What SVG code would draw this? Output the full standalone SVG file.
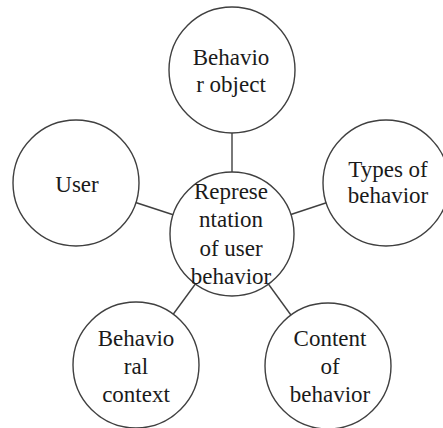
<svg xmlns="http://www.w3.org/2000/svg" width="443" height="428" viewBox="0 0 443 428">
  <style>
    .node circle { fill: #ffffff; stroke: #404040; stroke-width: 1.4; }
    #connectors line { stroke: #404040; stroke-width: 1.4; }
  </style>
  <rect width="443" height="428" fill="#ffffff"/>
  <g id="connectors">
    <line x1="232" y1="133" x2="232" y2="172"/>
    <line x1="76" y1="183" x2="232" y2="234"/>
    <line x1="386" y1="183" x2="232" y2="234"/>
    <line x1="136" y1="365" x2="232" y2="234"/>
    <line x1="328" y1="366" x2="232" y2="234"/>
  </g>
  <g id="behavior-object" class="node">
    <circle cx="232" cy="70" r="63"/>
    <text x="231" y="65" font-family="Liberation Serif" font-size="23" fill="#1a1a1a" text-anchor="middle">Behavio</text>
    <text x="231" y="92" font-family="Liberation Serif" font-size="23" fill="#1a1a1a" text-anchor="middle">r object</text>
  </g>
  <g id="user" class="node">
    <circle cx="76" cy="183" r="63"/>
    <text x="77" y="192" font-family="Liberation Serif" font-size="23" fill="#1a1a1a" text-anchor="middle">User</text>
  </g>
  <g id="types-of-behavior" class="node">
    <circle cx="386" cy="183" r="63"/>
    <text x="388" y="177" font-family="Liberation Serif" font-size="23" fill="#1a1a1a" text-anchor="middle">Types of</text>
    <text x="388" y="203" font-family="Liberation Serif" font-size="23" fill="#1a1a1a" text-anchor="middle">behavior</text>
  </g>
  <g id="behavioral-context" class="node">
    <circle cx="136" cy="365" r="63"/>
    <text x="136" y="346" font-family="Liberation Serif" font-size="23" fill="#1a1a1a" text-anchor="middle">Behavio</text>
    <text x="136" y="374" font-family="Liberation Serif" font-size="23" fill="#1a1a1a" text-anchor="middle">ral</text>
    <text x="136" y="402" font-family="Liberation Serif" font-size="23" fill="#1a1a1a" text-anchor="middle">context</text>
  </g>
  <g id="content-of-behavior" class="node">
    <circle cx="328" cy="366" r="63"/>
    <text x="330" y="346" font-family="Liberation Serif" font-size="23" fill="#1a1a1a" text-anchor="middle">Content</text>
    <text x="330" y="374" font-family="Liberation Serif" font-size="23" fill="#1a1a1a" text-anchor="middle">of</text>
    <text x="330" y="402" font-family="Liberation Serif" font-size="23" fill="#1a1a1a" text-anchor="middle">behavior</text>
  </g>
  <g id="representation" class="node">
    <circle cx="232" cy="234" r="62"/>
    <text x="231" y="199" font-family="Liberation Serif" font-size="23" fill="#1a1a1a" text-anchor="middle">Represe</text>
    <text x="231" y="227" font-family="Liberation Serif" font-size="23" fill="#1a1a1a" text-anchor="middle">ntation</text>
    <text x="231" y="256" font-family="Liberation Serif" font-size="23" fill="#1a1a1a" text-anchor="middle">of user</text>
    <text x="231" y="284" font-family="Liberation Serif" font-size="23" fill="#1a1a1a" text-anchor="middle">behavior</text>
  </g>
</svg>
